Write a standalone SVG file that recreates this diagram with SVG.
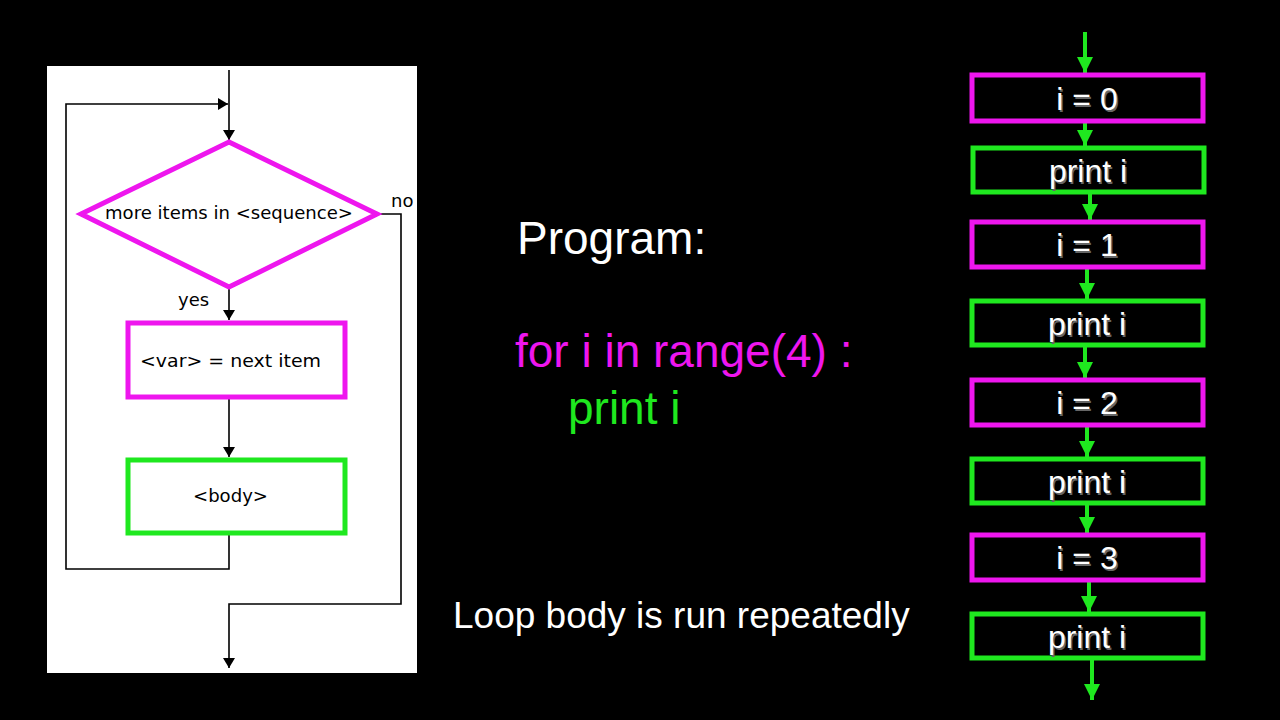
<svg xmlns="http://www.w3.org/2000/svg" width="1280" height="720" viewBox="0 0 1280 720">
<defs>
<marker id="blk" markerWidth="10" markerHeight="16" refX="10" refY="8" orient="auto" markerUnits="userSpaceOnUse"><path d="M0,2 L10,8 L0,14 Z" fill="#000"/></marker>
<marker id="grn" markerWidth="20" markerHeight="20" refX="16" refY="10" orient="auto" markerUnits="userSpaceOnUse"><path d="M0,2 L16,10 L0,18 Z" fill="#1fe81f"/></marker>
</defs>
<style>
.fc{font-family:"DejaVu Sans","Liberation Sans",sans-serif;font-size:18px;fill:#000}
.mag{fill:#fff;stroke:#ee16ee;stroke-width:5}
.gr{fill:#fff;stroke:#1fe81f;stroke-width:5}
.ln{fill:none;stroke:#000;stroke-width:1.6}
.bm{fill:#000;stroke:#ee16ee;stroke-width:5}
.bg{fill:#000;stroke:#1fe81f;stroke-width:5}
.bt{font-family:"Liberation Sans",Arial,sans-serif;font-size:32px;fill:#fff;text-anchor:middle}
.sh{font-family:"Liberation Sans",Arial,sans-serif;font-size:32px;fill:#666;text-anchor:middle}
.ga{stroke:#1fe81f;stroke-width:4;fill:none}
.big{font-family:"Liberation Sans",Arial,sans-serif;font-size:46px}
</style>
<rect width="1280" height="720" fill="#000"/>
<rect x="47" y="66" width="370" height="607" fill="#fff"/>
<g id="connectors">
<path class="ln" d="M229,70 V140" marker-end="url(#blk)"/>
<path class="ln" d="M229,534 V569 H66 V104 H228" marker-end="url(#blk)"/>
<path class="ln" d="M376,214 H401 V604 H229 V668" marker-end="url(#blk)"/>
<path class="ln" d="M229,288 V320" marker-end="url(#blk)"/>
<path class="ln" d="M229,398 V457" marker-end="url(#blk)"/>
<path class="ga" d="M1085,32 V73" marker-end="url(#grn)"/>
<path class="ga" d="M1085,122 V146" marker-end="url(#grn)"/>
<path class="ga" d="M1090,193 V220" marker-end="url(#grn)"/>
<path class="ga" d="M1087,268 V299" marker-end="url(#grn)"/>
<path class="ga" d="M1085,346 V378" marker-end="url(#grn)"/>
<path class="ga" d="M1087,427 V457" marker-end="url(#grn)"/>
<path class="ga" d="M1087,505 V533" marker-end="url(#grn)"/>
<path class="ga" d="M1089,582 V612" marker-end="url(#grn)"/>
<path class="ga" d="M1092,660 V700" marker-end="url(#grn)"/>
</g>
<g id="decision">
<path class="mag" d="M229,142 L377,214 L229,287 L81,214 Z"/>
<text class="fc" x="105" y="219" textLength="248" lengthAdjust="spacingAndGlyphs">more items in &lt;sequence&gt;</text>
</g>
<text class="fc" x="391" y="207">no</text>
<text class="fc" x="178" y="306">yes</text>
<g id="assign">
<rect class="mag" x="128" y="323" width="217" height="74"/>
<text class="fc" x="140" y="367" textLength="181" lengthAdjust="spacingAndGlyphs">&lt;var&gt; = next item</text>
</g>
<g id="body">
<rect class="gr" x="128" y="460" width="217" height="73"/>
<text class="fc" x="193" y="502" textLength="75" lengthAdjust="spacingAndGlyphs">&lt;body&gt;</text>
</g>
<g id="program">
<text class="big" x="517" y="254" fill="#fff">Program:</text>
<text class="big" x="515" y="367" fill="#ee16ee">for i in range(4) :</text>
<text class="big" x="568" y="424" fill="#1fe81f">print i</text>
<text x="453" y="628" fill="#fff" font-family="Liberation Sans, Arial, sans-serif" font-size="37">Loop body is run repeatedly</text>
</g>
<g id="n0"><rect class="bm" x="972" y="75" width="231" height="46"/><text class="sh" x="1088.5" y="111.5">i = 0</text><text class="bt" x="1087" y="110">i = 0</text></g>
<g id="p0"><rect class="bg" x="973" y="148" width="231" height="44"/><text class="sh" x="1089.5" y="183.5">print i</text><text class="bt" x="1088" y="182">print i</text></g>
<g id="n1"><rect class="bm" x="972" y="222" width="231" height="45"/><text class="sh" x="1088.5" y="257.5">i = 1</text><text class="bt" x="1087" y="256">i = 1</text></g>
<g id="p1"><rect class="bg" x="972" y="301" width="231" height="44"/><text class="sh" x="1088.5" y="336.5">print i</text><text class="bt" x="1087" y="335">print i</text></g>
<g id="n2"><rect class="bm" x="972" y="380" width="231" height="45"/><text class="sh" x="1088.5" y="415.5">i = 2</text><text class="bt" x="1087" y="414">i = 2</text></g>
<g id="p2"><rect class="bg" x="972" y="459" width="231" height="44"/><text class="sh" x="1088.5" y="494.5">print i</text><text class="bt" x="1087" y="493">print i</text></g>
<g id="n3"><rect class="bm" x="972" y="535" width="231" height="45"/><text class="sh" x="1088.5" y="570.5">i = 3</text><text class="bt" x="1087" y="569">i = 3</text></g>
<g id="p3"><rect class="bg" x="972" y="614" width="231" height="44"/><text class="sh" x="1088.5" y="649.5">print i</text><text class="bt" x="1087" y="648">print i</text></g>
</svg>
